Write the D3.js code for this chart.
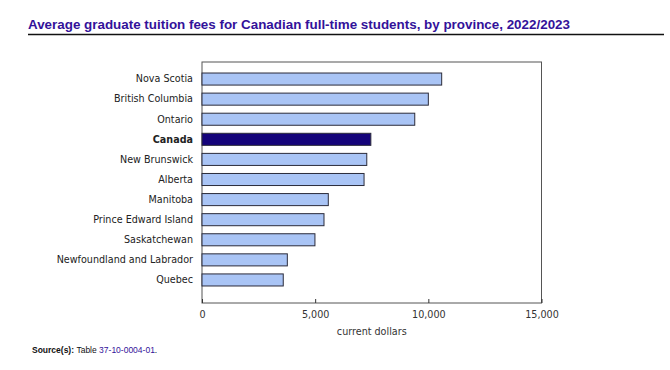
<!DOCTYPE html>
<html>
<head>
<meta charset="utf-8">
<script src="https://cdn.jsdelivr.net/npm/d3@7"></script>
<style>
  body { margin: 0; background: #fff; }
  svg { display: block; }
</style>
</head>
<body>
<div id="chart"></div>
<script>
"use strict";

// Data (current dollars)
const provinces = [
    "Nova Scotia",
    "British Columbia",
    "Ontario",
    "Canada",
    "New Brunswick",
    "Alberta",
    "Manitoba",
    "Prince Edward Island",
    "Saskatchewan",
    "Newfoundland and Labrador",
    "Quebec"
];
const fees = [10590, 10000, 9400, 7460, 7280, 7160, 5580, 5390, 4990, 3770, 3590];
const xTicks = [0, 5000, 10000, 15000];

const width = 670;
const height = 370;
const plot = { left: 202, right: 541.5, top: 62, bottom: 303 };

const svg = d3.select("#chart")
    .append("svg")
    .attr("width", width)
    .attr("height", height);

// Title + rule
svg.append("text")
    .attr("x", 28)
    .attr("y", 29)
    .attr("font-family", "Liberation Sans, Arial, sans-serif")
    .attr("font-size", 13.4)
    .attr("font-weight", "bold")
    .attr("fill", "#33129a")
    .text("Average graduate tuition fees for Canadian full-time students, by province, 2022/2023");
svg.append("line")
    .attr("x1", 28).attr("x2", 664)
    .attr("y1", 34.5).attr("y2", 34.5)
    .attr("stroke", "#111")
    .attr("stroke-width", 1.5);

const x = d3.scaleLinear().domain([0, 15000]).range([plot.left, plot.right]);
const y = d3.scaleBand()
    .domain(provinces)
    .range([69, 290])
    .paddingInner(0.4)
    .paddingOuter(0.2);

// Plot frame
svg.append("rect")
    .attr("x", plot.left)
    .attr("y", plot.top)
    .attr("width", plot.right - plot.left)
    .attr("height", plot.bottom - plot.top)
    .attr("fill", "none")
    .attr("stroke", "#555")
    .attr("stroke-width", 1);

// Bars
svg.append("g")
    .selectAll("rect")
    .data(provinces.map((p, i) => ({ name: p, value: fees[i] })))
    .enter()
    .append("rect")
    .attr("x", x(0))
    .attr("y", (d) => y(d.name))
    .attr("width", (d) => x(d.value) - x(0))
    .attr("height", y.bandwidth())
    .attr("fill", (d) => (d.name === "Canada" ? "#14037a" : "#a9c4f5"))
    .attr("stroke", "#2b2b3a")
    .attr("stroke-width", 1);

// Category labels
svg.append("g")
    .selectAll("text")
    .data(provinces)
    .enter()
    .append("text")
    .attr("x", plot.left - 9)
    .attr("y", (d) => y(d) + y.bandwidth() / 2)
    .attr("dy", "0.35em")
    .attr("text-anchor", "end")
    .attr("font-family", "DejaVu Sans, Verdana, sans-serif")
    .attr("font-size", 9.6)
    .attr("font-weight", (d) => (d === "Canada" ? "bold" : "normal"))
    .attr("fill", "#222")
    .text((d) => d);

// X axis: ticks pointing inward, labels below
const xAxis = svg.append("g")
    .attr("transform", `translate(0,${plot.bottom})`)
    .call(d3.axisBottom(x)
        .tickValues(xTicks)
        .tickSize(-4)
        .tickPadding(8)
        .tickFormat(d3.format(",")));
xAxis.select(".domain").remove();
xAxis.selectAll(".tick line").attr("stroke", "#333");
xAxis.selectAll(".tick text")
    .attr("font-family", "DejaVu Sans, Verdana, sans-serif")
    .attr("font-size", 9.6)
    .attr("fill", "#333");

svg.append("text")
    .attr("x", (plot.left + plot.right) / 2)
    .attr("y", 335)
    .attr("text-anchor", "middle")
    .attr("font-family", "DejaVu Sans, Verdana, sans-serif")
    .attr("font-size", 9.6)
    .attr("fill", "#333")
    .text("current dollars");

// Source note
const src = svg.append("text")
    .attr("x", 32)
    .attr("y", 352.5)
    .attr("font-family", "Liberation Sans, Arial, sans-serif")
    .attr("font-size", 8.5)
    .attr("fill", "#111");
src.append("tspan").attr("font-weight", "bold").text("Source(s): ");
src.append("tspan").text("Table ");
src.append("tspan").attr("fill", "#33129a").text("37-10-0004-01");
src.append("tspan").text(".");
</script>
</body>
</html>
